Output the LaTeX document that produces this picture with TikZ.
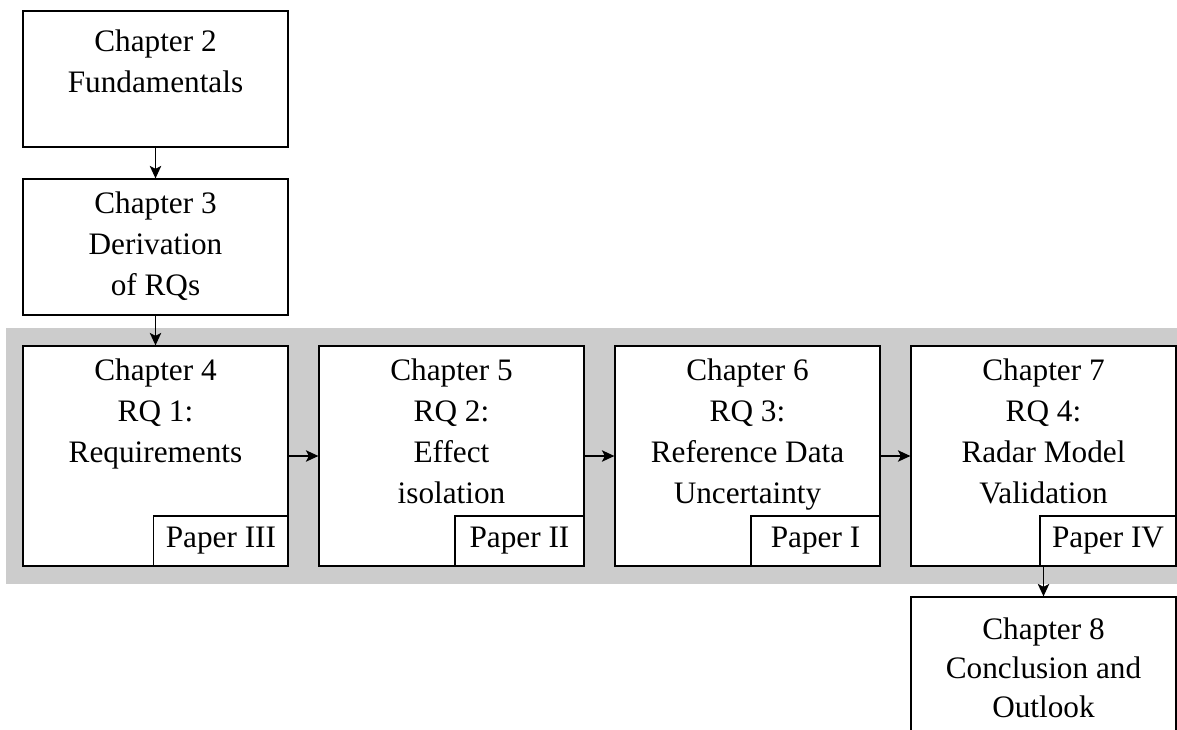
\documentclass[tikz,border=0pt]{standalone}
\usepackage{fontspec}
\setmainfont{Liberation Serif}
\usetikzlibrary{positioning,fit,backgrounds,arrows.meta}

\tikzset{
	chapter/.style={draw, line width=0.5pt, fill=white, minimum width=106pt, minimum height=54.4pt, inner sep=0pt},
	rqbox/.style={chapter, minimum height=88pt},
	chaptext/.style={anchor=north, align=center, inner sep=0pt, font=\fontsize{12.5}{16.4}\selectfont},
	paper/.style={draw, line width=0.5pt, fill=white, anchor=south east, minimum width=51.6pt, minimum height=20pt, inner xsep=4.8pt, font=\fontsize{12.5}{15}\selectfont},
	flow/.style={line width=0.5pt, -{Stealth[length=5pt,width=4.6pt,inset=1.2pt]}},
}

\begin{document}
\begin{tikzpicture}
	\useasboundingbox (0,0) rectangle (470.8pt,-291.6pt);
	% chapter boxes
	\node[chapter] (ch2) at (62.2pt,-31.6pt) {};
	\node[chapter, below=12.3pt of ch2] (ch3) {};
	\node[rqbox, below=11.9pt of ch3] (ch4) {};
	\node[rqbox, right=11.9pt of ch4] (ch5) {};
	\node[rqbox, right=11.9pt of ch5] (ch6) {};
	\node[rqbox, right=11.9pt of ch6] (ch7) {};
	\node[chapter, below=11.9pt of ch7] (ch8) {};
	% gray band behind the research questions
	\begin{scope}[on background layer]
		\node[fit=(ch4)(ch7), inner xsep=6.4pt, inner ysep=6.8pt, fill=black!20] (band) {};
	\end{scope}
	% texts
	\node[chaptext] (ch2t) at ([yshift=-7.6pt]ch2.north) {Chapter 2\\Fundamentals};
	\node[chaptext] (ch3t) at ([yshift=-5.1pt]ch3.north) {Chapter 3\\Derivation\\of RQs};
	\node[chaptext] (ch4t) at ([yshift=-5.1pt]ch4.north) {Chapter 4\\RQ 1:\\Requirements};
	\node[chaptext] (ch5t) at ([yshift=-5.1pt]ch5.north) {Chapter 5\\RQ 2:\\Effect\\isolation};
	\node[chaptext] (ch6t) at ([yshift=-5.1pt]ch6.north) {Chapter 6\\RQ 3:\\Reference Data\\Uncertainty};
	\node[chaptext] (ch7t) at ([yshift=-5.1pt]ch7.north) {Chapter 7\\RQ 4:\\Radar Model\\Validation};
	\node[chaptext, font=\fontsize{12.5}{15.6}\selectfont] (ch8t) at ([yshift=-8.3pt]ch8.north) {Chapter 8\\Conclusion and\\Outlook};
	% papers
	\node[paper] (p3) at (ch4.south east) {Paper III};
	\node[paper] (p2) at (ch5.south east) {Paper II};
	\node[paper] (p1) at (ch6.south east) {Paper I};
	\node[paper] (p4) at (ch7.south east) {Paper IV};
	% arrows
	\draw[flow] (ch2) -- (ch3);
	\draw[flow] (ch3) -- (ch4);
	\draw[flow] (ch4) -- (ch5);
	\draw[flow] (ch5) -- (ch6);
	\draw[flow] (ch6) -- (ch7);
	\draw[flow] (ch7) -- (ch8);
\end{tikzpicture}
\end{document}
